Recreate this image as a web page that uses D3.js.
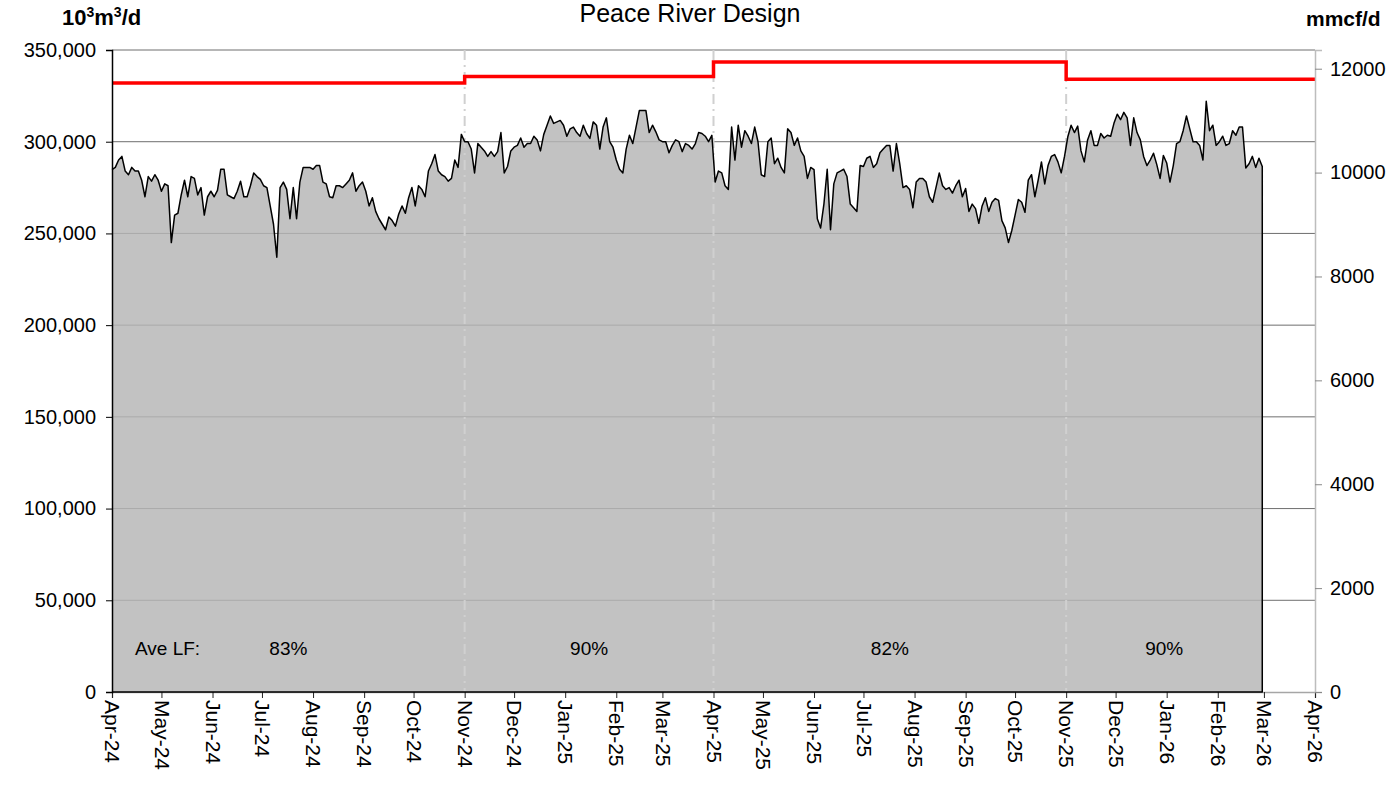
<!DOCTYPE html>
<html>
<head>
<meta charset="utf-8">
<script src="https://cdn.jsdelivr.net/npm/d3@7"></script>
<style>
  body { margin: 0; background: #fff; }
  text { font-family: "Liberation Sans", Arial, sans-serif; }
</style>
</head>
<body>
<svg id="chart"></svg>
<script>
// daily flow sampled every 2 days, in thousands of 10³m³/d
var startDate = "2024-04-01";
var stepDays = 2;
var flowK = [
  284.8, 286, 290, 292, 284, 282, 286, 284, 284, 279, 270, 281, 278.5, 282, 279, 273,
  277, 276, 245, 260, 261, 271, 279, 270, 281, 280, 271, 275, 260, 270, 273, 270,
  273.5, 285, 285, 271, 270, 269, 273, 278.5, 270, 270, 276, 283, 281, 279.5, 276, 275,
  265, 255, 237, 275, 278, 274, 258, 275, 258, 278, 286, 286, 286, 285, 287, 287,
  278, 277, 270, 269.5, 276, 276, 275, 277, 279, 283, 273, 276, 278, 273, 265, 269.5,
  262, 258, 255, 252, 259, 257, 254, 260.6, 265, 261, 269.5, 275, 265, 276, 274, 270,
  284, 288, 293, 284, 282, 281, 278.5, 280, 290, 286, 304, 300, 300, 296, 283, 299,
  297, 295, 292, 294.6, 292, 294.6, 305, 283, 286.5, 295, 297, 298, 302, 297, 299, 299,
  303, 301, 295, 304, 309, 314, 310, 310.8, 311.6, 309, 303, 307, 308, 305, 303, 309,
  304.5, 301.8, 310.8, 309, 296, 308, 313, 300, 297, 290, 285, 283, 296, 303.5, 299, 308,
  317, 317, 317, 305, 309, 305.4, 301, 300, 300, 294, 298, 301, 300, 294.6, 299, 298,
  296, 299, 305, 304.5, 303, 300, 303.5, 278, 284, 283, 276, 274, 308, 290, 309, 297,
  306, 303, 299, 308, 300, 282, 281, 300, 302, 288, 291, 286, 283, 307, 305, 298,
  302, 295, 292, 280, 286, 284.8, 258, 253, 266, 285, 252, 277, 283, 284, 285,
  281, 266, 264, 262, 287, 286.5, 291, 292, 286, 288, 294, 296, 298, 298, 284, 299,
  288, 275, 276, 274, 264, 278, 280, 280, 278, 270, 267, 275, 283, 276, 274, 275,
  272, 276, 279, 270, 274.5, 262, 266, 263.5, 255.5, 265, 269.5, 262, 267, 269, 268, 257,
  253, 245, 251.6, 260, 268.5, 267, 261.5, 279, 282, 270, 279, 289, 277, 287, 292, 293,
  289, 283, 292, 302.7, 309, 305, 308.5, 295, 289, 301, 306, 298, 298, 304.5, 302, 303.5,
  303, 310, 315, 312, 316, 313, 298, 313, 305, 301, 292, 287, 290, 293.7, 287.5, 280,
  292.5, 288.4, 278, 287, 299, 300, 306, 314, 307, 300, 300, 298, 290, 322, 306, 309,
  298, 300, 303, 298, 299, 306, 303.5, 308, 308, 285.7, 288, 292, 286, 291, 286.5
];

// design capacity periods (10³m³/d)
var periodStarts = ["2024-04-01", "2024-11-01", "2025-04-01", "2025-11-01", "2026-04-01"];
var designValues = [332000, 335500, 343500, 334000];
var lfLabels = ["83%", "90%", "82%", "90%"];

var leftTicks = [0, 50000, 100000, 150000, 200000, 250000, 300000, 350000];
var rightTicks = [0, 2000, 4000, 6000, 8000, 10000, 12000];
var mcfPerM3 = 35.3147 / 1000; // 10³m³/d -> mmcf/d

var width = 1400, height = 786;
var margin = {left: 112, right: 85, top: 50, bottom: 94};
var parse = d3.timeParse("%Y-%m-%d");

var svg = d3.select("#chart").attr("width", width).attr("height", height);

var start = parse(startDate);
var series = flowK.map(function(v, i) {
  return {date: d3.timeDay.offset(start, i * stepDays), value: v * 1000};
});
var bounds = periodStarts.map(parse);

var x = d3.scaleTime()
  .domain([bounds[0], bounds[bounds.length - 1]])
  .range([margin.left, width - margin.right]);
var y = d3.scaleLinear()
  .domain([0, 350000])
  .range([height - margin.bottom, margin.top]);
var yR = d3.scaleLinear()
  .domain([0, 350000 * mcfPerM3])
  .range([height - margin.bottom, margin.top]);

// gridlines
svg.append("g")
  .selectAll("line")
  .data(leftTicks.slice(1))
  .enter()
  .append("line")
  .attr("x1", x.range()[0])
  .attr("x2", x.range()[1])
  .attr("y1", function(d) { return y(d); })
  .attr("y2", function(d) { return y(d); })
  .attr("stroke", "#6e6e6e")
  .attr("stroke-width", 1);

// filled area
var area = d3.area()
  .x(function(d) { return x(d.date); })
  .y0(y(0))
  .y1(function(d) { return y(d.value); });

svg.append("path")
  .datum(series)
  .attr("d", area)
  .attr("fill", "#b6b6b6")
  .attr("fill-opacity", 0.83);

// season boundaries
svg.append("g")
  .selectAll("line")
  .data(bounds.slice(1, -1))
  .enter()
  .append("line")
  .attr("x1", function(d) { return x(d); })
  .attr("x2", function(d) { return x(d); })
  .attr("y1", y(350000))
  .attr("y2", y(0))
  .attr("stroke", "#d0d0d0")
  .attr("stroke-width", 2)
  .attr("stroke-dasharray", "10,5,2,5");

// bottom axis (drawn under the outline)
var bottomAxis = svg.append("g")
  .attr("transform", "translate(0," + y(0) + ")")
  .call(d3.axisBottom(x).ticks(d3.timeMonth.every(1)).tickFormat(d3.timeFormat("%b-%y")).tickSize(6));
bottomAxis.select(".domain").attr("stroke", "#a6a6a6").attr("stroke-width", 1.5);
bottomAxis.selectAll(".tick line").attr("stroke", "#222");
bottomAxis.selectAll("text")
  .attr("font-size", 21)
  .attr("fill", "#000")
  .attr("font-family", "Liberation Sans, Arial, sans-serif")
  .attr("text-anchor", "start")
  .attr("transform", "translate(0,8) rotate(90)")
  .attr("x", 0)
  .attr("y", 0)
  .attr("dy", "0.35em");

// outline of flow, closed down to zero at both ends
var first = series[0], last = series[series.length - 1];
var outline = series.concat([{date: last.date, value: 0}, {date: first.date, value: 0}]);
var line = d3.line()
  .x(function(d) { return x(d.date); })
  .y(function(d) { return y(d.value); });

svg.append("path")
  .datum(outline)
  .attr("d", line)
  .attr("fill", "none")
  .attr("stroke", "#000")
  .attr("stroke-width", 1.5)
  .attr("stroke-linejoin", "round");

// design capacity step line
var steps = [];
designValues.forEach(function(v, i) {
  steps.push({date: bounds[i], value: v});
  steps.push({date: bounds[i + 1], value: v});
});
svg.append("path")
  .datum(steps)
  .attr("d", line)
  .attr("fill", "none")
  .attr("stroke", "#ff0000")
  .attr("stroke-width", 3.5);

// left and right axes
var leftAxis = svg.append("g")
  .attr("transform", "translate(" + margin.left + ",0)")
  .call(d3.axisLeft(y).tickValues(leftTicks).tickFormat(d3.format(",")).tickSize(6).tickPadding(10));
leftAxis.select(".domain").attr("stroke", "#000").attr("stroke-width", 1.5);
leftAxis.selectAll(".tick line").attr("stroke", "#000");
leftAxis.selectAll("text").attr("font-size", 20).attr("fill", "#000").attr("font-family", "Liberation Sans, Arial, sans-serif");

var rightAxis = svg.append("g")
  .attr("transform", "translate(" + (width - margin.right) + ",0)")
  .call(d3.axisRight(yR).tickValues(rightTicks).tickFormat(d3.format("d")).tickSize(7).tickPadding(8));
rightAxis.select(".domain").attr("stroke", "#bdbdbd").attr("stroke-width", 1.5);
rightAxis.selectAll(".tick line").attr("stroke", "#888");
rightAxis.selectAll("text").attr("font-size", 20).attr("fill", "#000").attr("font-family", "Liberation Sans, Arial, sans-serif");

// load factor labels
var dataEnd = last.date;
svg.append("g")
  .selectAll("text")
  .data(lfLabels)
  .enter()
  .append("text")
  .text(function(d) { return d; })
  .attr("x", function(d, i) {
    var a = bounds[i], b = bounds[i + 1] < dataEnd ? bounds[i + 1] : dataEnd;
    return x(new Date((a.getTime() + b.getTime()) / 2));
  })
  .attr("y", y(24000))
  .attr("dy", "0.35em")
  .attr("text-anchor", "middle")
  .attr("font-size", 19)
  .attr("font-family", "Lato, 'Open Sans', sans-serif")
  .attr("fill", "#000");

svg.append("text")
  .text("Ave LF:")
  .attr("x", x(bounds[0]) + 23)
  .attr("y", y(24000))
  .attr("dy", "0.35em")
  .attr("font-size", 19)
  .attr("font-family", "Lato, 'Open Sans', sans-serif")
  .attr("fill", "#000");

// titles
svg.append("text")
  .text("Peace River Design")
  .attr("x", 690)
  .attr("y", 22)
  .attr("text-anchor", "middle")
  .attr("font-size", 25);

var unitL = svg.append("text")
  .attr("x", 62)
  .attr("y", 25)
  .attr("font-size", 22)
  .attr("font-weight", "bold");
unitL.append("tspan").text("10");
unitL.append("tspan").text("3").attr("font-size", 14).attr("dy", -8);
unitL.append("tspan").text("m").attr("dy", 8);
unitL.append("tspan").text("3").attr("font-size", 14).attr("dy", -8);
unitL.append("tspan").text("/d").attr("dy", 8);

svg.append("text")
  .text("mmcf/d")
  .attr("x", 1306)
  .attr("y", 26)
  .attr("font-size", 21)
  .attr("font-weight", "bold");
</script>
</body>
</html>
